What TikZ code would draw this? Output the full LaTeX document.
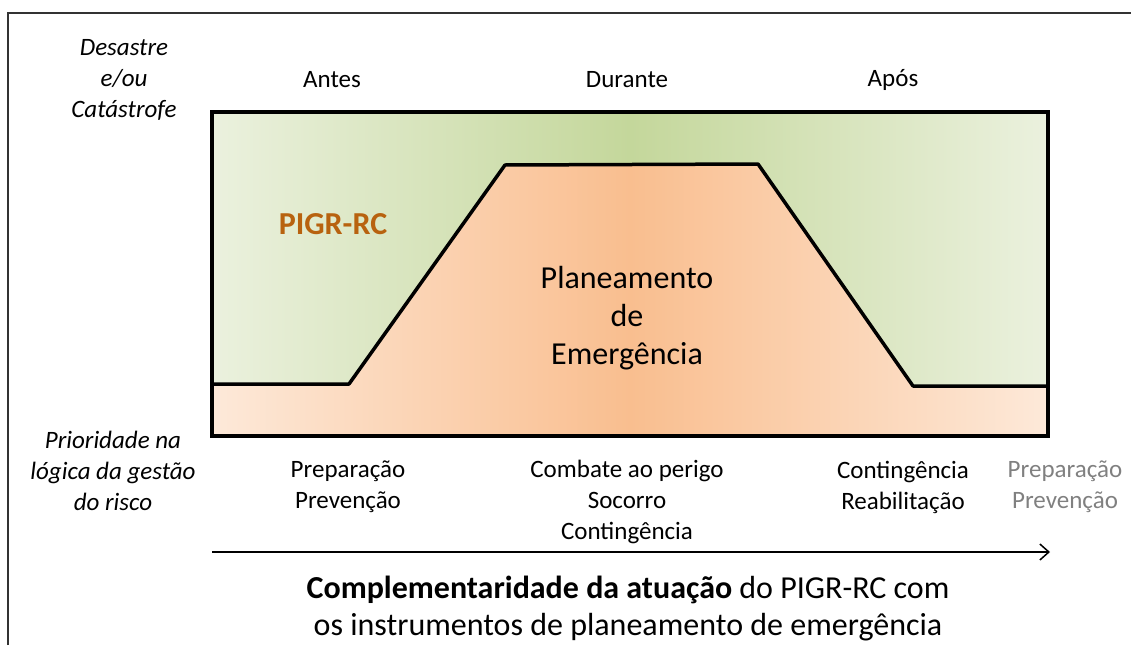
\documentclass[tikz,border=0pt]{standalone}
\usepackage{fontspec}
\setmainfont{Carlito}
\usetikzlibrary{arrows.meta}
\definecolor{verdeclaro}{HTML}{EBF1DE}
\definecolor{verdemeio}{HTML}{C4D79B}
\definecolor{laranjaclaro}{HTML}{FDE9D9}
\definecolor{laranjameio}{HTML}{F9BE8F}
\definecolor{pigrcor}{HTML}{B8620F}
\newcommand{\rotulo}{\fontsize{25}{31}\selectfont}
\newcommand{\grande}{\fontsize{32}{38}\selectfont}

\begin{document}
\begin{tikzpicture}[x=1pt,y=-1pt,
  etiqueta/.style={align=center,font=\rotulo,inner sep=0pt},
  lateral/.style={align=center,font=\rotulo\itshape,inner sep=0pt},
  ]
  \useasboundingbox (0,0) rectangle (1131,645);
  % moldura
  \draw[line width=2pt,black!80] (8,645) -- (8,13) -- (1131,13);
  % caixa com o trapezio
  \coordinate (cxNO) at (212,112);
  \coordinate (cxSE) at (1048,436);
  \shade[left color=verdeclaro,right color=verdeclaro,middle color=verdemeio] (cxNO) rectangle (cxSE);
  \shade[left color=laranjaclaro,right color=laranjaclaro,middle color=laranjameio]
    (212,384) -- (349,384) -- (505,165) -- (758,164) -- (913,386) -- (1048,386) -- (1048,436) -- (212,436) -- cycle;
  \draw[line width=3.5pt,line join=round] (212,384) -- (349,384) -- (505,165) -- (758,164) -- (913,386) -- (1048,386);
  \draw[line width=4pt] (cxNO) rectangle (cxSE);
  % textos de cima
  \node[lateral] (desastre) at (124,80) {Desastre\\e/ou\\Catástrofe};
  \node[etiqueta] (antes) at (332,80) {Antes};
  \node[etiqueta] (durante) at (627,80) {Durante};
  \node[etiqueta] (apos) at (893,80) {Após};
  % dentro da caixa
  \node[font=\grande\bfseries,text=pigrcor,inner sep=0pt] (pigr) at (333,224) {PIGR-RC};
  \node[font=\grande,align=center,inner sep=0pt] (planeamento) at (627,318) {Planeamento\\de\\Emergência};
  % textos de baixo
  \node[lateral] (prioridade) at (113,471) {Prioridade na\\lógica da gestão\\do risco};
  \node[etiqueta] (prep) at (348,487) {Preparação\\Prevenção};
  \node[etiqueta] (combate) at (627,502) {Combate ao perigo\\Socorro\\Contingência};
  \node[etiqueta] (conting) at (903,487) {Contingência\\Reabilitação};
  \node[etiqueta,text=black!50] (prepcinza) at (1065,487) {Preparação\\Prevenção};
  % seta do tempo
  \coordinate (setaA) at (212,552);
  \coordinate (setaB) at (1050,552);
  \draw[line width=1.5pt,-{Straight Barb[length=9pt,width=16pt]}] (setaA) -- (setaB);
  \node[font=\fontsize{32}{37}\selectfont,align=center,inner sep=0pt] (legenda) at (628,609)
    {\textbf{Complementaridade da atuação} do PIGR-RC com\\os instrumentos de planeamento de emergência};
\end{tikzpicture}
\end{document}
